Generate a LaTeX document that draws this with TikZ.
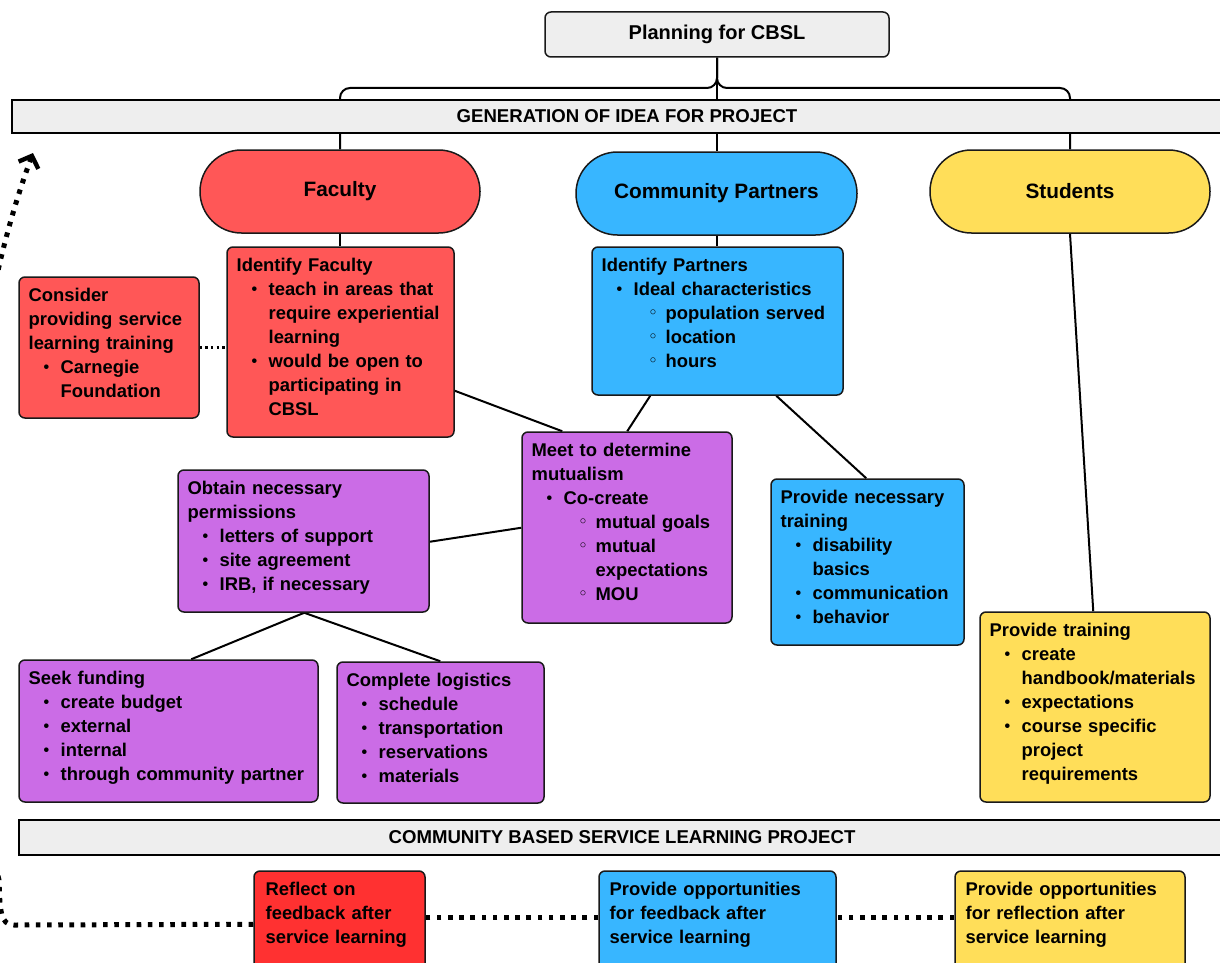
\documentclass[tikz,border=0pt]{standalone}
\usepackage{fontspec}
\setmainfont{Liberation Sans}
\newfontfamily\symf{DejaVu Sans}
\usetikzlibrary{fit,calc,arrows.meta,backgrounds}
\definecolor{cred}{HTML}{FF5757}
\definecolor{cbred}{HTML}{FF3131}
\definecolor{cblue}{HTML}{38B6FF}
\definecolor{cyel}{HTML}{FFDE59}
\definecolor{cpur}{HTML}{CB6CE6}
\definecolor{cgray}{HTML}{EEEEEE}
\newcommand\bul{\raisebox{0.6pt}{\fontsize{8}{6}\selectfont •}}
\newcommand\wbul{\raisebox{0.7pt}{\symf\fontsize{7}{6}\selectfont ◦}}
\newcommand\iA[1]{\par\leftskip=16pt\relax\noindent\llap{\makebox[8.5pt][l]{\bul}}#1\par}
\newcommand\iB[1]{\par\leftskip=32pt\relax\noindent\llap{\makebox[8.5pt][l]{\wbul}}#1\par}
\tikzset{
  box/.style={draw=black!90, line width=0.75pt, rounded corners=3pt, inner sep=0pt},
  pill/.style={box, rounded corners=20.7pt},
  pilltxt/.style={inner sep=0pt, font=\fontsize{10.4}{12}\selectfont\bfseries},
  bar/.style={draw=black, line width=1pt, fill=cgray, inner sep=0pt},
  bartxt/.style={inner sep=0pt, font=\fontsize{9.3}{12}\selectfont\bfseries},
  txt/.style={anchor=base west, inner sep=0pt, align=left, font=\fontsize{9.2}{12}\selectfont\bfseries},
  conn/.style={line width=1pt, black},
  bigdots/.style={line width=2.5pt, dash pattern=on 2.3pt off 3.3pt},
  thindots/.style={line width=1.2pt, dash pattern=on 1.2pt off 1.6pt},
}
\newcommand\tx[3]{\node[txt, text width=#2] (#1-t) at ($(#1.north west)+(5pt,-12.5pt)$) {#3};}
\begin{document}
\begin{tikzpicture}[x=0.5pt,y=-0.5pt]
\useasboundingbox (0,0) rectangle (1220,963);
\clip (0,0) rectangle (1220,963);

% top
\node[box, fill=cgray, fit={(545,12)(889,57)}] (plan) {};
\node[pilltxt, font=\fontsize{10}{12}\selectfont\bfseries] (plan-t) at (plan.center) {Planning for CBSL};
\node[bar, fit={(12,100)(1242,133)}] (gen) {};
\node[bartxt] (gen-t) at (gen.center) {GENERATION OF IDEA FOR PROJECT};

% headers
\node[pill, fill=cred, fit={(200,150)(480,233)}] (fac) {};
\node[pilltxt] (fac-t) at (fac.center) {Faculty};
\node[pill, fill=cblue, fit={(576,152)(857,235)}] (cp) {};
\node[pilltxt] (cp-t) at (cp.center) {Community Partners};
\node[pill, fill=cyel, fit={(930,150)(1210,233)}] (stu) {};
\node[pilltxt] (stu-t) at (stu.center) {Students};

% boxes
\node[box, fill=cred, fit={(19,277)(199,418)}] (cons) {};
\tx{cons}{84pt}{Consider\\providing service\\learning training
\iA{Carnegie\\Foundation}}

\node[box, fill=cred, fit={(227,247)(454,437)}] (idfac) {};
\tx{idfac}{107pt}{Identify Faculty
\iA{teach in areas that\\require experiential\\learning}
\iA{would be open to\\participating in\\CBSL}}

\node[box, fill=cblue, fit={(592,247)(843,395)}] (idpart) {};
\tx{idpart}{119pt}{Identify Partners
\iA{Ideal characteristics}
\iB{population served}
\iB{location}
\iB{hours}}

\node[box, fill=cpur, fit={(522,432)(732,623)}] (meet) {};
\tx{meet}{99pt}{Meet to determine\\mutualism
\iA{Co-create}
\iB{mutual goals}
\iB{mutual\\expectations}
\iB{MOU}}

\node[box, fill=cpur, fit={(178,470)(429,612)}] (obt) {};
\tx{obt}{119pt}{Obtain necessary\\permissions
\iA{letters of support}
\iA{site agreement}
\iA{IRB, if necessary}}

\node[box, fill=cpur, fit={(19,660)(318,802)}] (seek) {};
\tx{seek}{143pt}{Seek funding
\iA{create budget}
\iA{external}
\iA{internal}
\iA{through community partner}}

\node[box, fill=cpur, fit={(337,662)(544,803)}] (logi) {};
\tx{logi}{97pt}{Complete logistics
\iA{schedule}
\iA{transportation}
\iA{reservations}
\iA{materials}}

\node[box, fill=cblue, fit={(771,479)(964,645)}] (pnt) {};
\tx{pnt}{90pt}{Provide necessary\\training
\iA{disability\\basics}
\iA{communication}
\iA{behavior}}

\node[box, fill=cyel, fit={(980,612)(1210,802)}] (ptr) {};
\tx{ptr}{109pt}{Provide training
\iA{create\\handbook/materials}
\iA{expectations}
\iA{course specific\\project\\requirements}}

% bottom
\node[bar, fit={(19,820)(1225,855)}] (cbsl) {};
\node[bartxt] (cbsl-t) at (cbsl.center) {COMMUNITY BASED SERVICE LEARNING PROJECT};

\node[box, fill=cbred, fit={(254,871)(425,985)}] (refl) {};
\node[txt, text width=80pt] (refl-t) at ($(refl.north west)+(6pt,-12.5pt)$) {Reflect on\\feedback after\\service learning};
\node[box, fill=cblue, fit={(599,871)(836,985)}] (ofb) {};
\node[txt, text width=112pt] (ofb-t) at ($(ofb.north west)+(5.5pt,-12.5pt)$) {Provide opportunities\\for feedback after\\service learning};
\node[box, fill=cyel, fit={(955,871)(1185,985)}] (orf) {};
\node[txt, text width=108pt] (orf-t) at ($(orf.north west)+(5.5pt,-12.5pt)$) {Provide opportunities\\for reflection after\\service learning};

\coordinate (br) at (717,88);
\coordinate (lc1) at (14,925);
\coordinate (lc2) at (-1,880);
\coordinate (lend) at (33,153);

\begin{scope}[on background layer]
\draw[conn, rounded corners=5pt] (plan.south) |- (fac.north |- br) -- (fac.north);
\draw[conn, rounded corners=5pt] (plan.south) |- (stu.north |- br) -- (stu.north);
\draw[conn] (plan.south) -- (plan.south |- cp.north);
\draw[conn] (fac.south) -- (fac.south |- idfac.north);
\draw[conn] (cp.south) -- (cp.south |- idpart.north);
\draw[conn] ($(idfac.south east)+(0,-47)$) -- ($(meet.north west)+(41,0)$);
\draw[conn] ($(idpart.south west)+(59,0)$) -- ($(meet.north west)+(106,0)$);
\draw[conn] ($(idpart.south west)+(185,0)$) -- ($(pnt.north west)+(96,0)$);
\draw[conn] ($(meet.south west)+(0,-96)$) -- ($(obt.south east)+(0,-71)$);
\draw[conn] ($(obt.south west)+(127,0)$) -- ($(seek.north west)+(173,0)$);
\draw[conn] ($(obt.south west)+(127,0)$) -- ($(logi.north west)+(104,0)$);
\draw[conn] (stu.south) -- ($(ptr.north west)+(114,0)$);
\draw[thindots] (cons.east) -- (cons.east -| idfac.west);
\end{scope}

\draw[bigdots] ($(orf.north west)+(0,47)$) -- ($(ofb.north east)+(0,47)$);
\draw[bigdots] ($(ofb.north west)+(0,47)$) -- ($(refl.north east)+(0,47)$);
\draw[bigdots, -{Straight Barb[length=5pt,width=10.5pt,line width=2.2pt]}, line join=round]
  ($(refl.north west)+(0,54)$) -- (lc1) .. controls (0,925) and (0,910) .. (lc2)
  .. controls (-60,650) and (-40,350) .. (lend);
\end{tikzpicture}
\end{document}
